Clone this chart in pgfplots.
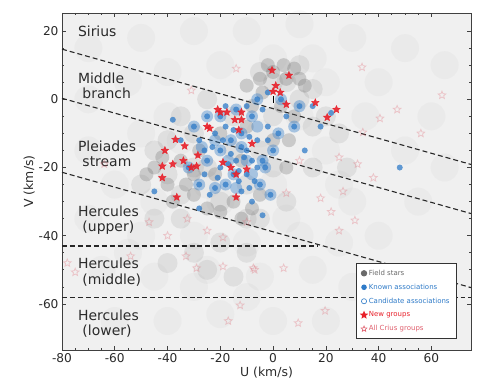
\documentclass[border=0pt]{standalone}
\usepackage{pgfplots}
\pgfplotsset{compat=1.18}
\usepackage{fontspec}
\setmainfont{DejaVu Sans}
\definecolor{fieldgray}{HTML}{6A6A6A}
\definecolor{assocblue}{HTML}{2F7BC8}
\definecolor{newred}{HTML}{E8202A}
\definecolor{criusred}{HTML}{E0606E}
\definecolor{txt}{HTML}{2A2A2A}
\pgfdeclareplotmark{fstar}{%
  \pgfpathmoveto{\pgfqpointpolar{90}{\pgfplotmarksize}}%
  \pgfpathlineto{\pgfqpointpolar{126}{0.45\pgfplotmarksize}}%
  \pgfpathlineto{\pgfqpointpolar{162}{\pgfplotmarksize}}%
  \pgfpathlineto{\pgfqpointpolar{198}{0.45\pgfplotmarksize}}%
  \pgfpathlineto{\pgfqpointpolar{234}{\pgfplotmarksize}}%
  \pgfpathlineto{\pgfqpointpolar{270}{0.45\pgfplotmarksize}}%
  \pgfpathlineto{\pgfqpointpolar{306}{\pgfplotmarksize}}%
  \pgfpathlineto{\pgfqpointpolar{342}{0.45\pgfplotmarksize}}%
  \pgfpathlineto{\pgfqpointpolar{18}{\pgfplotmarksize}}%
  \pgfpathlineto{\pgfqpointpolar{54}{0.45\pgfplotmarksize}}%
  \pgfpathclose
  \pgfusepathqfillstroke}
\pgfdeclareplotmark{ostar}{%
  \pgfpathmoveto{\pgfqpointpolar{90}{\pgfplotmarksize}}%
  \pgfpathlineto{\pgfqpointpolar{126}{0.45\pgfplotmarksize}}%
  \pgfpathlineto{\pgfqpointpolar{162}{\pgfplotmarksize}}%
  \pgfpathlineto{\pgfqpointpolar{198}{0.45\pgfplotmarksize}}%
  \pgfpathlineto{\pgfqpointpolar{234}{\pgfplotmarksize}}%
  \pgfpathlineto{\pgfqpointpolar{270}{0.45\pgfplotmarksize}}%
  \pgfpathlineto{\pgfqpointpolar{306}{\pgfplotmarksize}}%
  \pgfpathlineto{\pgfqpointpolar{342}{0.45\pgfplotmarksize}}%
  \pgfpathlineto{\pgfqpointpolar{18}{\pgfplotmarksize}}%
  \pgfpathlineto{\pgfqpointpolar{54}{0.45\pgfplotmarksize}}%
  \pgfpathclose
  \pgfusepathqstroke}
\begin{document}
\begin{tikzpicture}
\begin{axis}[
  scale only axis, width=409bp, height=337bp,
  xmin=-80, xmax=75, ymin=-73.5, ymax=25.3,
  axis background/.style={fill=black!6},
  axis line style={black!75, line width=0.9pt},
  tick align=inside, tick style={black!75, line width=0.7pt},
  xtick pos=both, ytick pos=both,
  major tick length=4pt, minor tick length=2.2pt,
  xtick={-80,-60,-40,-20,0,20,40,60},
  xticklabels={-80,-60,-40,-20,0,20,40,60},
  ytick={-60,-40,-20,0,20},
  yticklabels={-60,-40,-20,0,20},
  xticklabel pos=lower, yticklabel pos=left,
  minor x tick num=3, minor y tick num=3,
  ticklabel style={font=\fontsize{12.2}{14}\selectfont, text=txt},
  xlabel={U (km/s)}, ylabel={V (km/s)},
  label style={font=\fontsize{12.5}{14}\selectfont, text=txt},
  xlabel style={yshift=3pt},
  ylabel style={yshift=-3pt},
  clip=true,
  legend style={at={(rel axis cs:0.966,0.033)}, anchor=south east,
    font=\fontsize{7}{8}\selectfont, draw=black!80, line width=1.1pt,
    fill=white, row sep=3.2pt, inner xsep=5pt, inner ysep=4pt,
    cells={anchor=west}},
]
\coordinate (sw) at (rel axis cs:0,0);
\coordinate (ne) at (rel axis cs:1,1);
% ---- field stars: halo
\addplot[forget plot, only marks, mark=*, mark size=14bp, mark options={draw opacity=0, fill=fieldgray, fill opacity=0.04}] coordinates {
(-70,15) (-50,18) (-30,20) (-10,20) (10,22) (30,18) (50,15) (65,10)
(-70,0) (-55,5) (-40,8) (40,5) (60,-5) (65,-20)
(-70,-15) (-60,-25) (50,-15) (55,-30) (40,-40)
(-70,-35) (-50,-40) (-30,-40) (-10,-42) (10,-40) (25,-42)
(-65,-50) (-45,-52) (-25,-50) (-5,-52) (15,-50) (30,-55)
(-60,-65) (-40,-65) (-20,-63) (0,-65) (20,-65)
(-20,-30) (0,-25) (20,-15) (-40,-5) (-20,10) (0,12) (20,5)
(-50,-10) (-30,-55) (-10,-58) (30,-30) (35,-5) (-55,-45)
(-35,-12) (-25,-25) (-5,-10) (10,-5) (5,-35) (-45,-30) (25,-25) (15,12)
};
% ---- field stars: mid
\addplot[forget plot, only marks, mark=*, mark size=10bp, mark options={draw opacity=0, fill=fieldgray, fill opacity=0.12}] coordinates {
(-45,-15) (-40,-22) (-35,-28) (-30,-10) (-25,-20) (-20,-30) (-15,-5) (-10,-25)
(-5,-15) (0,-5) (5,5) (10,0) (15,-8) (-5,8) (10,10) (-25,0) (-35,-35) (-10,-35)
(5,-30) (20,-5) (-50,-25) (-20,-42) (-30,-45) (-40,-48) (-10,-45) (25,-10) (0,-20)
(-25,-50) (-15,-52) (15,3) (-35,-5) (28,-20) (-45,-35)
(-15,-15) (-30,-20) (-5,-35) (15,-20) (0,5) (-40,-12)
};
% ---- field stars: core
\addplot[forget plot, only marks, mark=*, mark size=7bp, mark options={draw opacity=0, fill=fieldgray, fill opacity=0.28}] coordinates {
(-5,6) (0,8) (5,6) (8,9) (-10,4) (-45,-20) (-40,-25) (-30,-28) (-25,-32) (-15,-30)
(-5,-28) (-20,-10) (-28,-15) (0,-12) (8,-5) (-12,-18) (-35,-18) (12,4) (-8,-2) (3,-2)
(-2,10) (10,6) (-48,-22) (-20,-33) (-38,-30) (-30,-22) (5,-20) (-8,-32)
(4,10) (-4,2) (-42,-17) (-33,-25) (-12,-35) (-22,-22) (-10,-8) (6,-12)
};
% ---- known associations (diffuse)
\addplot[forget plot, only marks, mark=*, mark size=6bp, mark options={draw opacity=0, fill=assocblue, fill opacity=0.38}] coordinates {
(-30,-8) (-25,-5) (-20,-15) (-16,-12) (-12,-10) (-8,-5) (-4,-18) (0,-15)
(-15,-22) (-25,-18) (-5,-25) (-18,-25) (-22,-26) (-3,-20) (2,-10) (-32,-20)
(-14,-3) (-6,0) (-28,-25) (-12,-14) (-20,-5) (3,0) (10,-2) (-1,-28) (8,-8)
(-17,-18) (-10,-18) (-22,-12) (-8,-22) (-14,-26) (-27,-14) (-6,-8)
};
% ---- known associations
\addplot[forget plot, only marks, mark=*, mark size=3bp, mark options={draw opacity=0, fill=assocblue, fill opacity=0.75}] coordinates {
(-30,-8) (-28,-12) (-25,-5) (-22,-10) (-20,-15) (-18,-8) (-16,-12) (-14,-18) (-12,-10)
(-10,-15) (-8,-5) (-6,-12) (-4,-18) (-2,-8) (0,-15) (-15,-22) (-20,-20) (-25,-18)
(-10,-22) (-5,-25) (-18,-25) (-12,-27) (-22,-26) (-8,-30) (-3,-20) (2,-10) (5,-5)
(-26,-22) (-32,-20) (-35,-12) (-14,-3) (-10,-2) (-6,0) (-18,-2) (-24,-28) (-28,-25)
(-16,-16) (-12,-14) (-8,-18) (-20,-5) (-4,-3) (-2,2) (3,0) (8,-8) (10,-2) (15,-2)
(18,-8) (12,-15) (-1,-28) (-38,-6) (22,-4) (48,-20) (-45,-27) (-28,-32) (-4,-34)
(-17,-19) (-13,-21) (-9,-11) (-7,-24) (-23,-14) (-19,-12) (-11,-17) (-6,-20)
(-15,-9) (-21,-23) (-9,-26) (-2,-12) (-26,-15) (-13,-24)
};
% ---- all Crius groups
\addplot[forget plot, only marks, mark=ostar, mark size=4bp, mark options={draw=criusred, line width=0.8pt, draw opacity=0.3}] coordinates {
(33.7,9.4) (64,1.2) (47,-3) (40.5,-5.6) (34,-9.7) (25,-17) (32,-19) (38,-23) (26.5,-27)
(31,-35.5) (25,-38.5) (-47,-36) (-32.5,-35) (-25,-38.5) (-19,-40.5) (-10,-36)
(-33,-46) (-29,-49.5) (-19,-49) (-7.5,-49.5) (-54,-46) (-75,-50.7) (-78,-48)
(-12.5,-60.4) (-17,-65) (-7,-50) (4,-49.5) (9.5,-65.6) (19.7,-62) (22,-33)
(18,-29) (5,-27.5) (-31,2.6) (-14,9) (-64,-19) (56,-10) (10,-18) (-40,-40)
};
% ---- new groups
\addplot[forget plot, only marks, mark=fstar, mark size=4bp, mark options={draw=newred, fill=newred, fill opacity=0.9, draw opacity=0.9, line width=0.4pt}] coordinates {
(-0.4,8.5) (6,7) (1,4) (0,2.3) (2.7,2) (5,-1.5) (16,-1) (24,-3) (20.5,-5.3)
(-12,-3.8) (-20,-3.8) (-17.5,-3.8) (-14.5,-6) (-12,-6) (-13,-9) (-24,-8.5)
(-37,-11.8) (-33.5,-13.7) (-34,-18) (-42,-19.6) (-42,-23) (-28.5,-16.4)
(-29,-19.6) (-19,-18.5) (-16,-20) (-10,-20.5) (-14,-22) (-36.5,-28.7)
(-14,-28.7) (-41,-15) (-21,-3) (-25,-8) (-31,-20) (-38,-19) (-8,-13)
};
% ---- sun marker
\addplot[forget plot, only marks, mark=|, mark size=3.5bp, black, line width=1pt] coordinates {(0,0)};
% ---- dashed dividing lines
\addplot[forget plot, black!85, line width=1.1pt, dash pattern=on 5pt off 3pt] coordinates {(-80,14.7) (75,-19.1)};
\addplot[forget plot, black!85, line width=1.1pt, dash pattern=on 5pt off 3pt] coordinates {(-80,0.3) (75,-33.5)};
\addplot[forget plot, black!85, line width=1.1pt, dash pattern=on 5pt off 3pt] coordinates {(-80,-21.4) (75,-55.2)};
\addplot[forget plot, black!85, line width=1.1pt, dash pattern=on 5pt off 3pt] coordinates {(-80,-43) (17,-43)};
\addplot[forget plot, black!85, line width=0.9pt, dash pattern=on 5pt off 3pt] coordinates {(-80,-58) (75,-58)};
% ---- region labels
\begin{scope}[every node/.style={anchor=west, align=left, text=txt, font=\fontsize{14}{15.5}\selectfont, inner sep=0pt}]
\node at (axis cs:-74,20) {Sirius};
\node at (axis cs:-74,4) {Middle\\\hspace*{0.32em}branch};
\node at (axis cs:-74,-16) {Pleiades\\\hspace*{0.32em}stream};
\node at (axis cs:-74,-35.5) {Hercules\\\hspace*{0.32em}(upper)};
\node at (axis cs:-74,-50.7) {Hercules\\\hspace*{0.32em}(middle)};
\node at (axis cs:-74,-65.7) {Hercules\\\hspace*{0.32em}(lower)};
\end{scope}
% ---- legend
\addlegendimage{only marks, mark=*, mark size=2.6pt, mark options={draw=fieldgray, fill=fieldgray}}
\addlegendentry{\textcolor{fieldgray}{Field stars}}
\addlegendimage{only marks, mark=*, mark size=2.2pt, mark options={draw=assocblue, fill=assocblue}}
\addlegendentry{\textcolor{assocblue}{Known associations}}
\addlegendimage{only marks, mark=o, mark size=2.6pt, mark options={draw=assocblue, line width=0.6pt}}
\addlegendentry{\textcolor{assocblue}{Candidate associations}}
\addlegendimage{only marks, mark=fstar, mark size=3pt, mark options={draw=newred, fill=newred}}
\addlegendentry{\textcolor{newred}{New groups}}
\addlegendimage{only marks, mark=ostar, mark size=3pt, mark options={draw=criusred, line width=0.6pt}}
\addlegendentry{\textcolor{criusred}{All Crius groups}}
\end{axis}
\pgfresetboundingbox
\path ([shift={(-62bp,-35bp)}]sw) rectangle ([shift={(11bp,13bp)}]ne);
\end{tikzpicture}
\end{document}
